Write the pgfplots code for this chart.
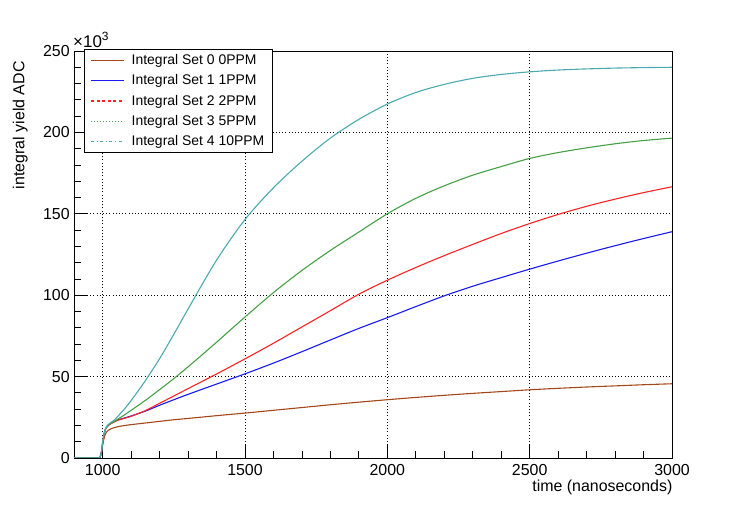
\documentclass[border=0pt]{standalone}
\usepackage{pgfplots}
\pgfplotsset{compat=1.18}
\usepackage{fontspec}
\setmainfont{Liberation Sans}
\definecolor{rootbrown}{RGB}{165,70,25}
\definecolor{rootblue}{RGB}{25,25,240}
\definecolor{rootred}{RGB}{250,35,35}
\definecolor{rootgreen}{RGB}{70,160,70}
\definecolor{rootteal}{RGB}{75,170,175}

\pgfplotstableread{
x     s0    s1    s2    s3    s4
900   0     0     0     0     0
988   0     0     0     0     0
992   1     1     1     1     1
996   3.5   4     4     4     4
1000  8     9.5   9.5   9.5   9.8
1004  11.5  14    14    14    14.3
1008  14    16.8  16.8  16.8  17
1012  15.5  18.5  18.4  18.5  18.7
1016  16.4  19.5  19.3  19.5  19.8
1020  17    20.2  20    20.2  20.6
1030  18    21.4  21.2  21.4  22
1040  18.6  22.3  22.1  22.4  23.2
1050  19.1  23.2  23    23.5  25
1075  19.9  24.5  24.3  26.3  29.8
1100  20.5  25.8  25.6  29.3  35.3
1150  21.5  28.8  29.1  35.4  47.5
1200  22.5  32.4  33.6  42    61
1250  23.5  35.8  38.1  48.8  76
1300  24.3  39.1  42.6  56    91.5
1400  26    45.4  51.6  71.1  121.5
1500  27.6  51.7  60.9  86.6  146.5
1600  29.3  58.3  70.5  101.6 166
1700  31    65.3  80.5  115.2 182.3
1800  32.7  72.5  90.5  127.5 196.5
1900  34.3  79.6  100.6 138.8 208
2000  35.8  86.2  109.2 150   217.4
2100  37.2  93    117   159.5 224.5
2200  38.5  99.6  124.3 167.2 229.5
2300  39.7  105.5 131.2 173.7 233.2
2400  40.8  110.8 137.9 179   235.6
2500  41.9  116   144   184   237.2
2600  42.8  121   149.6 187.6 238.3
2700  43.6  125.8 154.6 190.5 239
2800  44.3  130.4 159   193   239.5
2900  45    134.8 163   195   239.8
3000  45.6  139   166.6 196.5 240
}\datatable

\begin{document}
\begin{tikzpicture}
\path[use as bounding box] (0,0) rectangle (747bp,509bp);
\begin{axis}[
  at={(74.2bp,51bp)}, anchor=south west,
  scale only axis,
  width=597.8bp, height=407bp,
  xmin=900, xmax=3000, ymin=0, ymax=250,
  xtick={1000,1500,2000,2500,3000},
  ytick={0,50,100,150,200,250},
  minor x tick num=4, minor y tick num=4,
  xtick pos=lower, ytick pos=left,
  tick align=inside,
  major tick length=13bp, minor tick length=7bp,
  every tick/.style={black, line width=0.8bp},
  axis line style={black, line width=0.9bp},
  grid=major,
  major grid style={black, line width=0.8bp, dash pattern=on 1bp off 2.2bp},
  scaled ticks=false,
  /pgf/number format/assume math mode=true,
  /pgf/number format/1000 sep={},
  tick label style={font=\fontsize{16}{19}\selectfont},
  xticklabel style={yshift=-3bp},
  yticklabel style={xshift=-1bp},
  xlabel={time (nanoseconds)},
  ylabel={integral yield ADC},
  label style={font=\fontsize{16}{19}\selectfont},
  xlabel style={at={(axis description cs:1.0065,-0.072)}, anchor=east},
  ylabel style={at={(axis description cs:-0.0903,0.983)}, anchor=east},
  legend style={at={(0.0163,1.006)}, anchor=north west,
    draw=black, line width=1bp, fill=white,
    font=\fontsize{14}{16}\selectfont,
    inner xsep=6bp, inner ysep=3.5bp,
    row sep=4.7bp,
    /tikz/every odd column/.append style={column sep=5bp}},
  legend cell align=left,
  legend image code/.code={\draw[#1, line width=1.3bp] (0bp,0bp) -- (33bp,0bp);},
  clip mode=individual,
]
\addlegendimage{draw=rootbrown}
\addlegendimage{draw=rootblue}
\addlegendimage{draw=rootred, dash pattern=on 3bp off 2.5bp}
\addlegendimage{draw=rootgreen, dash pattern=on 1.2bp off 1.8bp}
\addlegendimage{draw=rootteal, dash pattern=on 3bp off 2.5bp on 1.2bp off 2.5bp}
% onset (straight segments)
\addplot[rootbrown, line width=1.1bp, forget plot, restrict x to domain=900:1020] table[x=x, y=s0] {\datatable};
\addplot[rootblue, line width=1.1bp, forget plot, restrict x to domain=900:1020] table[x=x, y=s1] {\datatable};
\addplot[rootred, line width=1.1bp, forget plot, restrict x to domain=900:1020] table[x=x, y=s2] {\datatable};
\addplot[rootgreen, line width=1.1bp, forget plot, restrict x to domain=900:1020] table[x=x, y=s3] {\datatable};
\addplot[rootteal, line width=1.1bp, forget plot, restrict x to domain=900:1020] table[x=x, y=s4] {\datatable};
% main part (smooth)
\addplot[rootbrown, line width=1.1bp, smooth, forget plot, restrict x to domain=1020:3000] table[x=x, y=s0] {\datatable};
\addplot[rootblue, line width=1.1bp, smooth, forget plot, restrict x to domain=1020:3000] table[x=x, y=s1] {\datatable};
\addplot[rootred, line width=1.1bp, smooth, forget plot, restrict x to domain=1020:3000] table[x=x, y=s2] {\datatable};
\addplot[rootgreen, line width=1.1bp, smooth, forget plot, restrict x to domain=1020:3000] table[x=x, y=s3] {\datatable};
\addplot[rootteal, line width=1.1bp, smooth, forget plot, restrict x to domain=1020:3000] table[x=x, y=s4] {\datatable};
\legend{Integral Set 0 0PPM, Integral Set 1 1PPM, Integral Set 2 2PPM, Integral Set 3 5PPM, Integral Set 4 10PPM\hspace{9bp}}
\node[anchor=base west, font=\fontsize{17}{20}\selectfont, inner sep=0pt] at (axis description cs:-0.002,1.008) {×10\raisebox{0.45em}{\fontsize{12}{14}\selectfont 3}};
\end{axis}
\end{tikzpicture}
\end{document}
